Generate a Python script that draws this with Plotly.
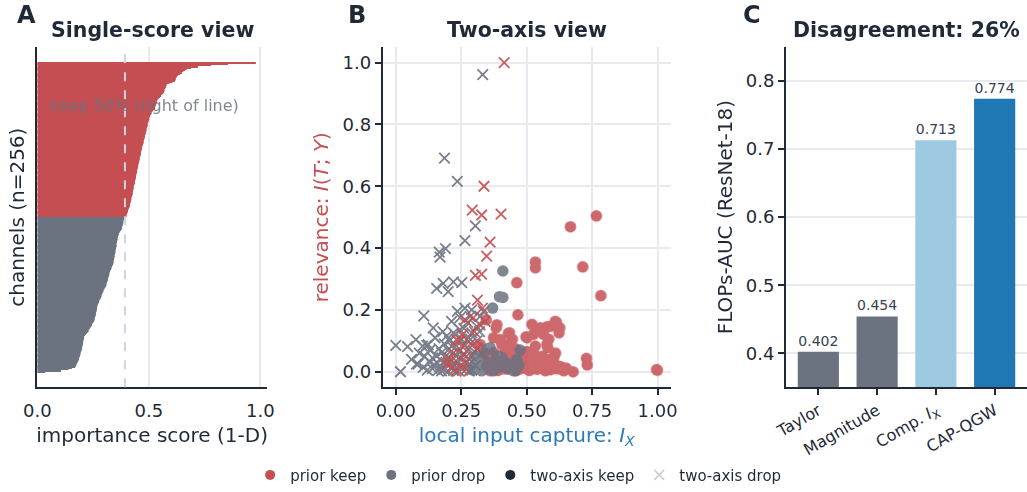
import plotly.graph_objects as go

# ---------------- data ----------------
# Panel A: 1-D importance score per channel, sorted from highest to lowest
keep_scores = [
    0.98, 0.855, 0.78, 0.72, 0.69, 0.67, 0.662, 0.655, 0.648, 0.64,
    0.63, 0.627, 0.624, 0.621, 0.619, 0.617, 0.605, 0.592, 0.58, 0.578,
    0.576, 0.574, 0.571, 0.569, 0.567, 0.565, 0.56, 0.555, 0.55, 0.545,
    0.54, 0.538, 0.536, 0.535, 0.533, 0.531, 0.53, 0.528, 0.524, 0.52,
    0.517, 0.513, 0.51, 0.507, 0.505, 0.503, 0.502, 0.5, 0.499, 0.497,
    0.496, 0.495, 0.494, 0.492, 0.491, 0.49, 0.489, 0.487, 0.486, 0.485,
    0.483, 0.482, 0.481, 0.479, 0.478, 0.477, 0.476, 0.474, 0.473, 0.471,
    0.47, 0.468, 0.467, 0.466, 0.465, 0.464, 0.463, 0.462, 0.46, 0.459,
    0.458, 0.457, 0.456, 0.455, 0.453, 0.452, 0.451, 0.45, 0.449, 0.448,
    0.447, 0.446, 0.444, 0.443, 0.442, 0.441, 0.44, 0.439, 0.438, 0.437,
    0.436, 0.434, 0.433, 0.432, 0.431, 0.43, 0.429, 0.428, 0.427, 0.426,
    0.425, 0.423, 0.422, 0.421, 0.42, 0.418, 0.417, 0.416, 0.414, 0.413,
    0.41, 0.409, 0.407, 0.405, 0.403, 0.401, 0.40, 0.395,
]
drop_scores = [
    0.389, 0.388, 0.387, 0.386, 0.385, 0.384, 0.383, 0.381, 0.38, 0.378,
    0.375, 0.372, 0.369, 0.366, 0.364, 0.362, 0.361, 0.36, 0.359, 0.358,
    0.357, 0.356, 0.355, 0.355, 0.354, 0.353, 0.352, 0.351, 0.35, 0.349,
    0.348, 0.347, 0.346, 0.345, 0.344, 0.343, 0.342, 0.341, 0.34, 0.338,
    0.335, 0.333, 0.331, 0.328, 0.326, 0.325, 0.323, 0.322, 0.32, 0.319,
    0.317, 0.316, 0.314, 0.313, 0.311, 0.31, 0.307, 0.305, 0.302, 0.3,
    0.297, 0.294, 0.292, 0.29, 0.288, 0.286, 0.284, 0.281, 0.279, 0.277,
    0.274, 0.272, 0.27, 0.269, 0.268, 0.267, 0.266, 0.265, 0.264, 0.263,
    0.262, 0.26, 0.259, 0.257, 0.256, 0.255, 0.251, 0.248, 0.245, 0.242,
    0.239, 0.236, 0.233, 0.23, 0.226, 0.222, 0.218, 0.214, 0.21, 0.209,
    0.208, 0.207, 0.206, 0.205, 0.204, 0.203, 0.202, 0.201, 0.2, 0.198,
    0.197, 0.195, 0.194, 0.192, 0.19, 0.189, 0.187, 0.185, 0.183, 0.181,
    0.178, 0.175, 0.172, 0.17, 0.155, 0.14, 0.106, 0.035,
]
keep_threshold = 0.393

# Panel B: (local input capture I_X, relevance I(T;Y)) per channel
prior_keep_two_keep = [
    (0.766, 0.504), (0.667, 0.469), (0.533, 0.355), (0.533, 0.336), (0.714, 0.339),
    (0.462, 0.288), (0.783, 0.246), (0.466, 0.184), (0.996, 0.007), (0.999, 0.005),
    (0.728, 0.043), (0.731, 0.022), (0.677, 0.000), (0.641, 0.006), (0.628, 0.017),
    (0.599, 0.040), (0.613, 0.160), (0.626, 0.142), (0.623, 0.126), (0.590, 0.147),
    (0.584, 0.105), (0.580, 0.078), (0.552, 0.142), (0.520, 0.153), (0.564, 0.121),
    (0.501, 0.110), (0.526, 0.121), (0.533, 0.083), (0.434, 0.126), (0.405, 0.094),
    (0.418, 0.067), (0.456, 0.075), (0.539, 0.040), (0.507, 0.035), (0.469, 0.030),
    (0.475, 0.009), (0.520, 0.009), (0.558, 0.014), (0.590, 0.006), (0.552, 0.030),
    (0.411, 0.009), (0.437, 0.040), (0.386, 0.152), (0.383, 0.142), (0.373, 0.110),
    (0.322, 0.088), (0.345, 0.168), (0.398, 0.104), (0.405, 0.088), (0.430, 0.124),
    (0.373, 0.062), (0.347, 0.019), (0.398, 0.035), (0.424, 0.009), (0.500, 0.019),
    (0.526, 0.035), (0.552, 0.019), (0.571, 0.003), (0.596, 0.014), (0.616, 0.009),
    (0.641, 0.003), (0.603, 0.046), (0.577, 0.088), (0.539, 0.136), (0.609, 0.163),
    (0.577, 0.145), (0.497, 0.113), (0.597, 0.043), (0.360, 0.003), (0.380, 0.012),
    (0.390, 0.004), (0.440, 0.020), (0.450, 0.052), (0.460, 0.004), (0.490, 0.050),
    (0.490, 0.012), (0.510, 0.004), (0.530, 0.055), (0.540, 0.008), (0.560, 0.050),
    (0.570, 0.030), (0.580, 0.018), (0.600, 0.028), (0.620, 0.018), (0.650, 0.012),
    (0.360, 0.045), (0.340, 0.058), (0.420, 0.045), (0.430, 0.085), (0.470, 0.060),
    (0.480, 0.020), (0.500, 0.065), (0.610, 0.060), (0.445, 0.105), (0.352, 0.032),
]
prior_keep_two_drop = [
    (0.414, 1.000), (0.337, 0.600), (0.292, 0.523), (0.328, 0.507), (0.402, 0.510),
    (0.360, 0.419), (0.347, 0.374), (0.304, 0.312), (0.328, 0.316), (0.312, 0.232),
    (0.331, 0.206), (0.296, 0.174), (0.264, 0.168), (0.322, 0.152), (0.232, 0.104),
    (0.252, 0.083), (0.290, 0.051), (0.200, 0.030), (0.270, 0.009), (0.245, 0.019),
    (0.239, 0.099), (0.194, 0.025), (0.264, 0.030), (0.285, 0.090), (0.300, 0.130),
    (0.255, 0.120), (0.220, 0.060), (0.280, 0.002), (0.310, 0.075), (0.230, 0.002),
    (0.260, 0.055), (0.215, 0.013), (0.205, 0.045),
]
prior_drop_two_keep = [
    (0.409, 0.326), (0.396, 0.243), (0.409, 0.240), (0.370, 0.206), (0.351, 0.072),
    (0.475, 0.070), (0.309, 0.035), (0.315, 0.019), (0.373, 0.003), (0.450, 0.003),
    (0.386, 0.051), (0.462, 0.040), (0.347, 0.073), (0.322, 0.030), (0.328, 0.003),
    (0.456, 0.003), (0.430, 0.009), (0.405, 0.046), (0.360, 0.078), (0.392, 0.051),
    (0.322, 0.009), (0.300, 0.012), (0.335, 0.040), (0.345, 0.010), (0.360, 0.025),
    (0.395, 0.015), (0.420, 0.030), (0.440, 0.012), (0.470, 0.020), (0.310, 0.050),
    (0.295, 0.005), (0.380, 0.035), (0.340, 0.025),
]
prior_drop_two_drop = [
    (0.332, 0.961), (0.186, 0.691), (0.235, 0.616), (0.304, 0.472), (0.264, 0.424),
    (0.166, 0.387), (0.190, 0.398), (0.169, 0.371), (0.156, 0.270), (0.181, 0.286),
    (0.200, 0.259), (0.220, 0.291), (0.252, 0.288), (0.107, 0.181), (0.143, 0.142),
    (0.213, 0.163), (0.264, 0.206), (0.284, 0.179), (0.000, 0.085), (0.045, 0.081),
    (0.077, 0.104), (0.102, 0.083), (0.124, 0.088), (0.018, 0.000), (0.079, 0.025),
    (0.105, 0.014), (0.130, 0.030), (0.156, 0.051), (0.175, 0.062), (0.194, 0.115),
    (0.220, 0.126), (0.245, 0.136), (0.232, 0.083), (0.271, 0.104), (0.290, 0.126),
    (0.309, 0.147), (0.322, 0.179), (0.335, 0.195), (0.118, 0.085), (0.085, 0.025),
    (0.156, 0.030), (0.175, 0.003), (0.226, 0.121), (0.252, 0.105), (0.213, 0.083),
    (0.232, 0.051), (0.194, 0.041), (0.213, 0.014), (0.252, 0.009), (0.271, 0.030),
    (0.277, 0.073), (0.341, 0.163), (0.120, 0.005), (0.140, 0.010), (0.150, 0.020),
    (0.160, 0.004), (0.170, 0.015), (0.180, 0.030), (0.185, 0.008), (0.190, 0.050),
    (0.200, 0.002), (0.200, 0.070), (0.210, 0.035), (0.220, 0.004), (0.225, 0.020),
    (0.230, 0.035), (0.240, 0.003), (0.240, 0.065), (0.250, 0.045), (0.260, 0.015),
    (0.265, 0.085), (0.270, 0.050), (0.280, 0.025), (0.285, 0.105), (0.290, 0.005),
    (0.300, 0.065), (0.305, 0.020), (0.310, 0.100), (0.320, 0.130), (0.330, 0.060),
    (0.140, 0.045), (0.165, 0.075), (0.185, 0.090), (0.205, 0.100), (0.245, 0.175),
    (0.260, 0.140), (0.275, 0.160), (0.235, 0.195), (0.180, 0.130), (0.150, 0.110),
    (0.090, 0.060), (0.060, 0.040), (0.110, 0.050), (0.130, 0.070), (0.290, 0.200),
]

# Panel C: FLOPs-AUC on ResNet-18 per pruning criterion
methods = ["Taylor", "Magnitude", "Comp. <i>I</i><sub>X</sub>", "CAP-QGW"]
flops_auc = [0.402, 0.454, 0.713, 0.774]
disagreement_pct = 26

# ---------------- styling ----------------
RED = "#c44e52"
GRAY = "#6b7280"
DARK = "#1f2937"
LIGHT_X = "#c9ccd2"
BLUE_TXT = "#2a7ab9"
BAR_COLORS = [GRAY, GRAY, "#9ecae1", "#1f77b4"]
GRID = "#e8eaf0"
FONT = "DejaVu Sans"

W, H = 1027, 492


def px_x(px):
    return px / W


def px_y(py):
    return 1 - py / H


Y_DOM = [px_y(392), px_y(47.7)]

fig = go.Figure()

# ---- Panel A: sorted horizontal bars ----
n = len(keep_scores) + len(drop_scores)
y_keep = [n - 1 - i for i in range(len(keep_scores))]
y_drop = [n - 1 - len(keep_scores) - i for i in range(len(drop_scores))]
fig.add_trace(go.Bar(x=keep_scores, y=y_keep, orientation="h", width=1.03,
                     marker=dict(color=RED, line=dict(width=0)),
                     showlegend=False, hoverinfo="skip", xaxis="x", yaxis="y"))
fig.add_trace(go.Bar(x=drop_scores, y=y_drop, orientation="h", width=1.03,
                     marker=dict(color=GRAY, line=dict(width=0)),
                     showlegend=False, hoverinfo="skip", xaxis="x", yaxis="y"))

# ---- Panel B: two-axis scatter ----
def unzip(pts):
    return [p[0] for p in pts], [p[1] for p in pts]


for pts, color in [(prior_drop_two_drop, GRAY), (prior_keep_two_drop, RED)]:
    xs, ys = unzip(pts)
    fig.add_trace(go.Scatter(x=xs, y=ys, mode="markers", xaxis="x2", yaxis="y2",
                             marker=dict(symbol="x-thin", size=10.5,
                                         line=dict(color=color, width=1.8)),
                             opacity=0.9, showlegend=False, hoverinfo="skip"))
for pts, color in [(prior_keep_two_keep, RED), (prior_drop_two_keep, GRAY)]:
    xs, ys = unzip(pts)
    fig.add_trace(go.Scatter(x=xs, y=ys, mode="markers", xaxis="x2", yaxis="y2",
                             marker=dict(symbol="circle", size=11.5, color=color,
                                         line=dict(width=0)),
                             opacity=0.85, showlegend=False, hoverinfo="skip"))

# legend entries
legend_items = [
    ("prior keep", dict(symbol="circle", size=10, color=RED)),
    ("prior drop", dict(symbol="circle", size=10, color=GRAY)),
    ("two-axis keep", dict(symbol="circle", size=10, color=DARK)),
    ("two-axis drop", dict(symbol="x-thin", size=10, line=dict(color=LIGHT_X, width=1.5))),
]
for name, mk in legend_items:
    fig.add_trace(go.Scatter(x=[None], y=[None], mode="markers", name=name,
                             marker=mk, xaxis="x2", yaxis="y2"))

# ---- Panel C: FLOPs-AUC bars ----
fig.add_trace(go.Bar(x=list(range(len(methods))), y=flops_auc, width=0.7,
                     marker=dict(color=BAR_COLORS, line=dict(width=0)),
                     text=[f"{v:.3f}" for v in flops_auc], textposition="outside",
                     textfont=dict(size=14, color="#374151", family=FONT),
                     cliponaxis=False, showlegend=False, hoverinfo="skip",
                     xaxis="x3", yaxis="y3"))

axis_common = dict(showline=True, linecolor=DARK, linewidth=2, zeroline=False,
                   automargin=False,
                   ticks="outside", ticklen=6, tickwidth=1.5, tickcolor=DARK,
                   tickfont=dict(size=18, color=DARK, family=FONT))
title_font = dict(size=20, color=DARK, family=FONT)

fig.update_layout(
    width=W, height=H,
    margin=dict(l=0, r=0, t=0, b=0, pad=0),
    paper_bgcolor="white", plot_bgcolor="white",
    font=dict(family=FONT, color=DARK),
    barmode="overlay",
    xaxis=dict(domain=[px_x(37.3), px_x(267)], range=[0, 1.03], anchor="y",
               tickvals=[0, 0.5, 1.0], ticktext=["0.0", "0.5", "1.0"],
               showgrid=True, gridcolor=GRID, gridwidth=1.5,
               title=dict(text="importance score (1-D)", font=title_font, standoff=8),
               **{**axis_common, "tickcolor": "rgba(0,0,0,0)"}),
    yaxis=dict(domain=Y_DOM, range=[-12.7, 268], anchor="x",
               showticklabels=False, showgrid=False,
               title=dict(text="channels (n=256)", font=title_font, standoff=5),
               **{**axis_common, "ticks": ""}),
    xaxis2=dict(domain=[px_x(382.7), px_x(670.7)], range=[-0.05, 1.05], anchor="y2",
                tickvals=[0, 0.25, 0.5, 0.75, 1.0], tickformat=".2f",
                showgrid=True, gridcolor=GRID, gridwidth=1.5,
                title=dict(text="local input capture: <i>I</i><sub><i>X</i></sub>",
                           font=dict(size=20, color=BLUE_TXT, family=FONT), standoff=8),
                **axis_common),
    yaxis2=dict(domain=Y_DOM, range=[-0.05, 1.05], anchor="x2",
                tickvals=[0, 0.2, 0.4, 0.6, 0.8, 1.0], tickformat=".1f",
                showgrid=True, gridcolor=GRID, gridwidth=1.5,
                title=dict(text="relevance: <i>I</i>(<i>T</i>; <i>Y</i>)",
                           font=dict(size=20, color=RED, family=FONT), standoff=8),
                **axis_common),
    xaxis3=dict(domain=[px_x(786), 1.0], range=[-0.55, 3.55], anchor="y3",
                tickvals=list(range(len(methods))), ticktext=methods, tickangle=-30,
                showgrid=False,
                **{**axis_common, "tickfont": dict(size=16, color=DARK, family=FONT)}),
    yaxis3=dict(domain=Y_DOM, range=[0.35, 0.85], anchor="x3",
                tickvals=[0.4, 0.5, 0.6, 0.7, 0.8],
                ticktext=["0.4", "0.5", "0.6", "0.7", "0.8"],
                showgrid=True, gridcolor=GRID, gridwidth=1.5,
                title=dict(text="FLOPs-AUC (ResNet-18)", font=title_font, standoff=8),
                **axis_common),
    legend=dict(orientation="h", x=0.505, xanchor="center", y=px_y(481), yanchor="middle",
                font=dict(size=15, color=DARK, family=FONT), itemwidth=30,
                bgcolor="rgba(0,0,0,0)"),
)

# threshold line in panel A
fig.add_shape(type="line", xref="x", yref="y domain", x0=keep_threshold, x1=keep_threshold,
              y0=0, y1=1, line=dict(color="#cbd5e1", width=2, dash="dash"), layer="above")

annotations = [
    dict(text="keep 50% (right of line)", x=0.05, y=219.6, xref="x", yref="y",
         xanchor="left", yanchor="middle", showarrow=False,
         font=dict(size=16, color="rgba(107,114,128,0.85)", family=FONT)),
]
for letter, cx in [("A", 26), ("B", 357), ("C", 752)]:
    annotations.append(dict(text=f"<b>{letter}</b>", x=px_x(cx), y=px_y(15),
                            xref="paper", yref="paper", xanchor="center", yanchor="middle",
                            showarrow=False, font=dict(size=24, color=DARK, family=FONT)))
for title, cx in [("Single-score view", 152), ("Two-axis view", 526.7),
                  (f"Disagreement: {disagreement_pct}%", 906.5)]:
    annotations.append(dict(text=f"<b>{title}</b>", x=px_x(cx), y=px_y(30),
                            xref="paper", yref="paper", xanchor="center", yanchor="middle",
                            showarrow=False, font=dict(size=20.5, color=DARK, family=FONT)))
fig.update_layout(annotations=annotations)

fig.write_html("out.html")
